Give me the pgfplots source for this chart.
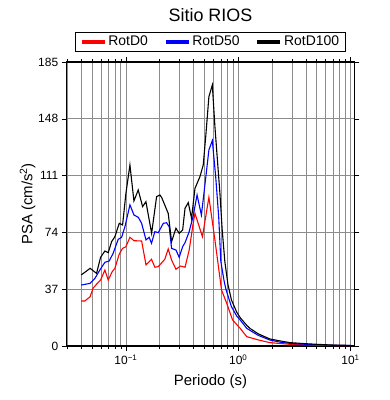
\documentclass[border=0pt]{standalone}
\usepackage{pgfplots}
\pgfplotsset{compat=1.18}
\usepackage{fontspec}
\setmainfont{Liberation Sans}
\begin{document}
\begin{tikzpicture}[x=1bp,y=1bp]
\useasboundingbox (-66.7bp,-54bp) rectangle (323.3bp,346bp);
\begin{axis}[
  at={(0,0)}, anchor=south west,
  scale only axis, width=287.6bp, height=284bp,
  xmode=log, xmin=0.0297, xmax=10.8,
  ymin=0, ymax=185,
  ytick={0,37,74,111,148,185},
  xtick={0.1,1,10},
  xticklabels={10\textsuperscript{−1},10\textsuperscript{0},10\textsuperscript{1}},
  minor xtick={0.03,0.04,0.05,0.06,0.07,0.08,0.09,0.2,0.3,0.4,0.5,0.6,0.7,0.8,0.9,2,3,4,5,6,7,8,9},
  /pgf/number format/assume math mode=true,
  tick label style={font=\fontsize{12}{14}\selectfont, black},
  yticklabel style={/pgf/number format/fixed},
  tick align=outside,
  major tick length=5bp, minor tick length=3bp,
  tick style={black, line width=0.5bp},
  xtick pos=both, ytick pos=both,
  xticklabel pos=lower, yticklabel pos=left,
  grid=both,
  major grid style={draw=black!45, line width=0.6bp},
  minor grid style={draw=black!45, line width=0.6bp},
  axis line style={black, line width=1.6bp},
  xlabel={Periodo (s)}, ylabel={PSA (cm/s\textsuperscript{2})},
  label style={font=\fontsize{15}{17}\selectfont},
  xlabel style={yshift=-3bp},
  ylabel style={yshift=-4bp},
  title={Sitio RIOS},
  title style={font=\fontsize{18}{20}\selectfont, yshift=31bp},
  legend columns=3,
  legend style={at={(0.5,1)}, anchor=south, yshift=10bp, draw=black, line width=1.2bp,
    font=\fontsize{14}{16}\selectfont, inner xsep=4bp, inner ysep=2bp,
    /tikz/every even column/.append style={column sep=14bp}},
  legend image code/.code={\draw[#1, line width=3.5bp] (0bp,0bp) -- (23bp,0bp);},
  clip=true,
]
\addplot[red, line width=1.1bp] coordinates {
(0.040,29.3)(0.043,29.3)(0.048,32.1)(0.051,37.6)(0.055,40.4)(0.0595,43)(0.065,49.5)(0.0696,43)
(0.0755,48.4)(0.0798,50.6)(0.0872,59.9)(0.0934,63.6)(0.100,64.7)(0.1086,70.8)(0.118,68.6)(0.138,68.4)
(0.151,52.8)(0.169,56.5)(0.181,51.3)(0.194,51.7)(0.222,56.5)(0.238,63.2)(0.255,56)(0.279,50)
(0.306,52.1)(0.336,51.3)(0.366,62.5)(0.397,79.9)(0.412,86.4)(0.48,71.2)(0.548,96.9)(0.62,69.1)
(0.71,36.5)(0.79,27.8)(0.89,17)(1.04,11.5)(1.19,6.1)(1.5,4)(1.91,2.2)(3,1)(5,0.5)(10,0.2)
};
\addlegendentry{RotD0}
\addplot[blue, line width=1.1bp] coordinates {
(0.040,39.7)(0.048,40.8)(0.053,44.1)(0.0586,49.5)(0.065,54.5)(0.071,55.4)(0.077,60.4)(0.0854,69.5)
(0.0916,70.8)(0.098,77.7)(0.1086,91.9)(0.118,85.3)(0.129,83.8)(0.138,79.9)(0.151,69.1)(0.161,70.8)
(0.169,66.9)(0.181,74.5)(0.194,73.8)(0.215,79.9)(0.23,80.3)(0.243,77.7)(0.255,63.6)(0.279,62.5)
(0.298,57.8)(0.32,64.7)(0.336,67.3)(0.366,74.5)(0.397,84.7)(0.43,98.4)(0.47,85.3)(0.515,110.3)
(0.548,127.7)(0.588,133.8)(0.63,110.3)(0.67,84.2)(0.70,55)(0.75,42)(0.78,36.5)(0.87,25.6)
(0.97,19.5)(1.04,17)(1.19,11.5)(1.5,7)(1.91,3.9)(2.4,2.4)(3,1.6)(4,1.1)(5,0.8)(7,0.5)(10,0.3)
};
\addlegendentry{RotD50}
\addplot[black, line width=1.1bp] coordinates {
(0.040,46.3)(0.044,48.5)(0.048,50.6)(0.0548,47.3)(0.0595,57.8)(0.065,61.9)(0.0696,60.8)(0.0746,68)
(0.0798,71.2)(0.0872,79.9)(0.0934,78.8)(0.100,99.5)(0.1086,117.9)(0.1178,94.5)(0.1287,101.6)(0.1408,90.8)
(0.1507,94)(0.1694,73.4)(0.1876,97.3)(0.2006,98.4)(0.208,96.8)(0.238,86.4)(0.255,68)(0.279,76.7)
(0.298,73.4)(0.32,75.6)(0.336,89.7)(0.359,93.4)(0.384,83.2)(0.412,102.7)(0.456,110.3)(0.488,117.9)
(0.515,137.5)(0.548,162.4)(0.588,170)(0.62,142.9)(0.687,99.5)(0.72,75.6)(0.76,55)(0.81,40)
(0.87,30)(0.97,22)(1.04,18.5)(1.19,13.5)(1.27,11.5)(1.5,8)(1.91,4.6)(2.4,3.2)(2.89,2.2)(4,1.5)
(5,1.1)(7,0.6)(10,0.4)
};
\addlegendentry{RotD100}
\end{axis}
\end{tikzpicture}
\end{document}
